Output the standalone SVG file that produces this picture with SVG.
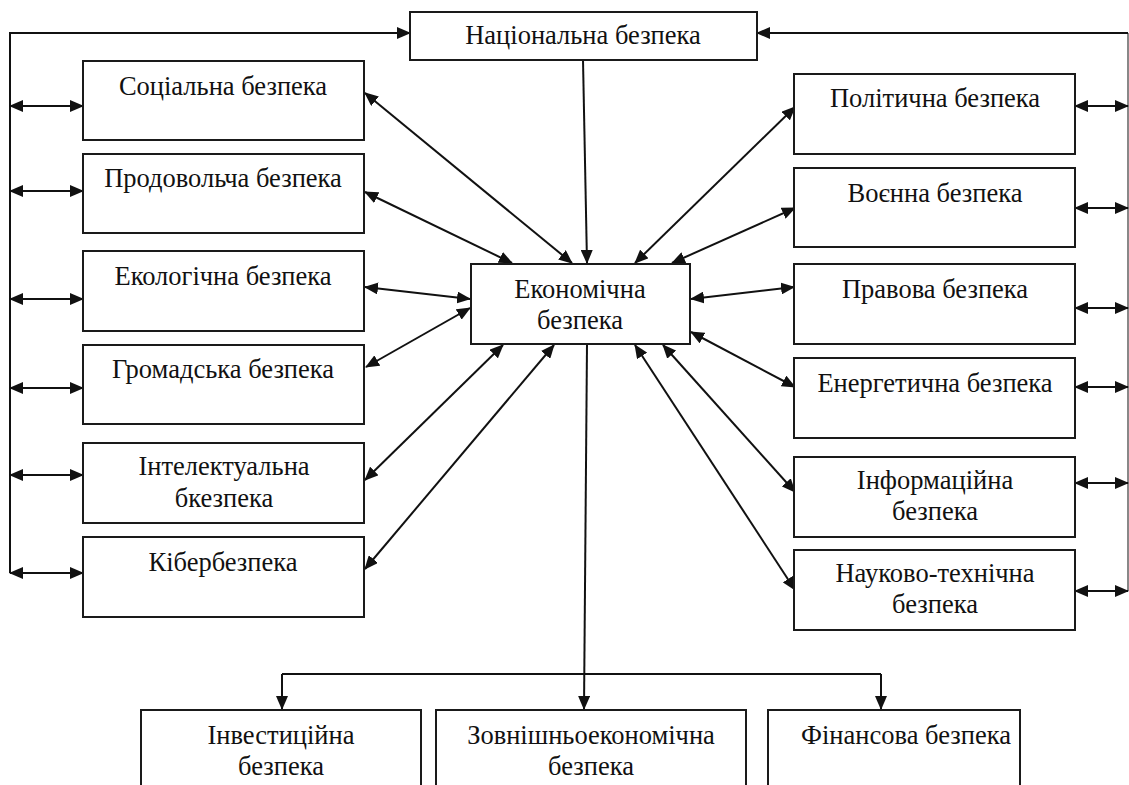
<svg xmlns="http://www.w3.org/2000/svg" width="1129" height="785" viewBox="0 0 1129 785">
<style>
.box{fill:#fff;stroke:#1a1a1a;stroke-width:2}
.t{font-family:"Liberation Serif","Times New Roman",serif;font-size:26.5px;fill:#111;text-anchor:middle}
.c{fill:none;stroke:#111;stroke-width:2}
.d{fill:none;stroke:#111;stroke-width:2;marker-start:url(#ah);marker-end:url(#ah)}
.s{fill:none;stroke:#111;stroke-width:2;marker-end:url(#ah)}
</style>
<defs>
<marker id="ah" markerUnits="userSpaceOnUse" markerWidth="14" markerHeight="12" refX="13" refY="6" orient="auto-start-reverse">
<path d="M0,0 L14,6 L0,12 z" fill="#111"/>
</marker>
</defs>
<rect width="1129" height="785" fill="#fff"/>
<g id="connectors">
<polyline class="s" points="10,573 10,33 410,33"/>
<polyline class="c" points="1128,591 1128,33" style="stroke:#888"/>
<line class="s" x1="1128" y1="33" x2="757" y2="33"/>
<line class="d" x1="10" y1="106" x2="83" y2="106"/>
<line class="d" x1="10" y1="191" x2="83" y2="191"/>
<line class="d" x1="10" y1="299" x2="83" y2="299"/>
<line class="d" x1="10" y1="388" x2="83" y2="388"/>
<line class="d" x1="10" y1="475" x2="83" y2="475"/>
<line class="d" x1="10" y1="573" x2="83" y2="573"/>
<line class="d" x1="1075" y1="106" x2="1128" y2="106"/>
<line class="d" x1="1075" y1="208" x2="1128" y2="208"/>
<line class="d" x1="1075" y1="308" x2="1128" y2="308"/>
<line class="d" x1="1075" y1="387" x2="1128" y2="387"/>
<line class="d" x1="1075" y1="483" x2="1128" y2="483"/>
<line class="d" x1="1075" y1="591" x2="1128" y2="591"/>
<line class="s" x1="583" y1="60" x2="587" y2="263"/>
<line class="d" x1="572" y1="263" x2="365" y2="93"/>
<line class="d" x1="512" y1="263" x2="365" y2="192"/>
<line class="d" x1="470" y1="299" x2="365" y2="287"/>
<line class="d" x1="470" y1="308" x2="366" y2="367"/>
<line class="d" x1="503" y1="345" x2="365" y2="480"/>
<line class="d" x1="554" y1="345" x2="365" y2="569"/>
<line class="d" x1="635" y1="263" x2="795" y2="107"/>
<line class="d" x1="672" y1="263" x2="795" y2="208"/>
<line class="d" x1="691" y1="299" x2="794" y2="287"/>
<line class="d" x1="691" y1="332" x2="795" y2="387"/>
<line class="d" x1="663" y1="345" x2="795" y2="492"/>
<line class="d" x1="635" y1="345" x2="795" y2="590"/>
<line class="s" x1="587" y1="344" x2="584" y2="709"/>
<line class="c" x1="282" y1="674" x2="881" y2="674"/>
<line class="s" x1="282" y1="674" x2="282" y2="709"/>
<line class="s" x1="881" y1="674" x2="881" y2="709"/>
</g>
<g id="national"><rect class="box" x="410" y="12" width="347" height="48"/><text class="t" x="583" y="44">Національна безпека</text></g>
<g id="economic"><rect class="box" x="471" y="264" width="219" height="80"/><text class="t" x="580" y="298">Економічна</text><text class="t" x="580" y="329">безпека</text></g>
<g id="social"><rect class="box" x="83" y="61" width="281" height="79"/><text class="t" x="223" y="95">Соціальна безпека</text></g>
<g id="food"><rect class="box" x="83" y="154" width="281" height="79"/><text class="t" x="223" y="187">Продовольча безпека</text></g>
<g id="ecological"><rect class="box" x="83" y="251" width="281" height="80"/><text class="t" x="223" y="285">Екологічна безпека</text></g>
<g id="public"><rect class="box" x="83" y="345" width="281" height="79"/><text class="t" x="223" y="378">Громадська безпека</text></g>
<g id="intellectual"><rect class="box" x="83" y="443" width="281" height="80"/><text class="t" x="224" y="475">Інтелектуальна</text><text class="t" x="224" y="507">бкезпека</text></g>
<g id="cyber"><rect class="box" x="83" y="537" width="281" height="80"/><text class="t" x="223" y="571">Кібербезпека</text></g>
<g id="political"><rect class="box" x="794" y="74" width="281" height="80"/><text class="t" x="935" y="107">Політична безпека</text></g>
<g id="military"><rect class="box" x="794" y="168" width="281" height="79"/><text class="t" x="935" y="202">Воєнна безпека</text></g>
<g id="legal"><rect class="box" x="794" y="264" width="281" height="80"/><text class="t" x="935" y="298">Правова безпека</text></g>
<g id="energy"><rect class="box" x="794" y="358" width="281" height="80"/><text class="t" x="935" y="392">Енергетична безпека</text></g>
<g id="information"><rect class="box" x="794" y="457" width="281" height="80"/><text class="t" x="935" y="489">Інформаційна</text><text class="t" x="935" y="520">безпека</text></g>
<g id="scitech"><rect class="box" x="794" y="550" width="281" height="80"/><text class="t" x="935" y="582">Науково-технічна</text><text class="t" x="935" y="613">безпека</text></g>
<g id="investment"><rect class="box" x="141" y="710" width="280" height="100"/><text class="t" x="281" y="744">Інвестиційна</text><text class="t" x="281" y="775">безпека</text></g>
<g id="foreign"><rect class="box" x="436" y="710" width="310" height="100"/><text class="t" x="591" y="744">Зовнішньоекономічна</text><text class="t" x="591" y="775">безпека</text></g>
<g id="financial"><rect class="box" x="768" y="710" width="252" height="100"/><text class="t" x="906" y="744">Фінансова безпека</text></g>
</svg>
